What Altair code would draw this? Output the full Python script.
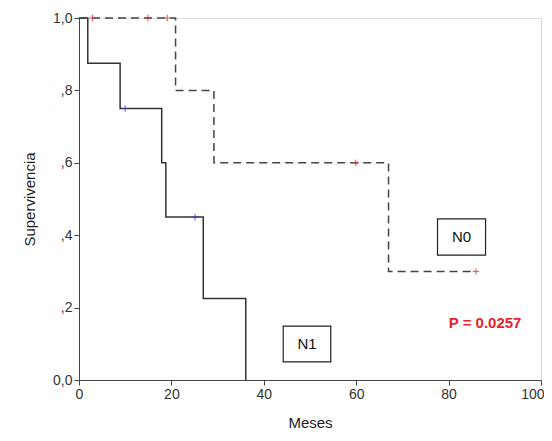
import altair as alt
import pandas as pd

# Kaplan-Meier steps
n1_time = [0, 1.9, 8.9, 17.9, 18.8, 26.9, 36.1]
n1_surv = [1.0, 0.875, 0.75, 0.6, 0.45, 0.225, 0.0]
n0_time = [0, 20.9, 29.2, 67.0, 85.9]
n0_surv = [1.0, 0.8, 0.6, 0.3, 0.3]

# censored observations
n1_cens_time = [10.0, 25.1]
n1_cens_surv = [0.75, 0.45]
n0_cens_time = [2.9, 14.9, 19.1, 59.9, 85.9]
n0_cens_surv = [1.0, 1.0, 1.0, 0.6, 0.3]

# annotation boxes (data units)
box_labels = ["N0", "N1"]
box_x1 = [77.6, 44.2]
box_x2 = [88.0, 54.5]
box_y1 = [0.345, 0.05]
box_y2 = [0.445, 0.149]
p_label = ["P = 0.0257"]
p_x = [87.9]
p_y = [0.157]

x_ticks = [0, 20, 40, 60, 80, 100]
y_ticks = [0, 0.2, 0.4, 0.6, 0.8, 1.0]

n1_line = pd.DataFrame({"t": n1_time, "s": n1_surv})
n0_line = pd.DataFrame({"t": n0_time, "s": n0_surv})
n1_c = pd.DataFrame({"t": n1_cens_time, "s": n1_cens_surv})
n0_c = pd.DataFrame({"t": n0_cens_time, "s": n0_cens_surv})
box_df = pd.DataFrame({"lab": box_labels, "x1": box_x1, "x2": box_x2,
                       "y1": box_y1, "y2": box_y2,
                       "xm": [(a + b) / 2 for a, b in zip(box_x1, box_x2)],
                       "ym": [(a + b) / 2 for a, b in zip(box_y1, box_y2)]})
p_df = pd.DataFrame({"lab": p_label, "x": p_x, "y": p_y})

FONT = "Liberation Sans"
PLUS = "M-1,0L1,0M0,-1L0,1"
xscale = alt.Scale(domain=[0, 100], nice=False, zero=False)
yscale = alt.Scale(domain=[0, 1], nice=False)

xenc = alt.X("t:Q", scale=xscale, axis=alt.Axis(
    title="Meses", values=x_ticks, grid=False,
    tickSize=5, labelFontSize=14, titleFontSize=15, titleFontWeight="normal",
    titlePadding=14, domainColor="#444", tickColor="#444", labelColor="#333",
    titleColor="#222", labelFont=FONT, titleFont=FONT, labelFlush=False,
    labelAlign={"expr": "datum.value == 100 ? 'right' : 'center'"},
    labelOffset={"expr": "datum.value == 100 ? 3 : 0"}))
yenc = alt.Y("s:Q", scale=yscale, axis=alt.Axis(
    title="Supervivencia", values=y_ticks, grid=False,
    tickSize=5, labelFontSize=14, titleFontSize=15, titleFontWeight="normal",
    titlePadding=15, domainColor="#444", tickColor="#444", labelColor="#333",
    titleColor="#222", labelFont=FONT, titleFont=FONT,
    labelExpr="datum.value == 0 ? '0,0' : datum.value == 1 ? '1,0' : ',' + format(datum.value*10, 'd')"))

l1 = alt.Chart(n1_line).mark_line(interpolate="step-after", color="#333", strokeWidth=1.5).encode(x=xenc, y=yenc)
l0 = alt.Chart(n0_line).mark_line(interpolate="step-after", color="#444", strokeWidth=1.5,
                                   strokeDash=[8, 5]).encode(x="t:Q", y="s:Q")
c1 = alt.Chart(n1_c).mark_point(shape=PLUS, size=45, color="#3b3bd0", filled=False,
                                 strokeWidth=1.2).encode(x="t:Q", y="s:Q")
c0 = alt.Chart(n0_c).mark_point(shape=PLUS, size=40, color="#e8282a", filled=False,
                                 strokeWidth=1.2).encode(x="t:Q", y="s:Q")
boxes = alt.Chart(box_df).mark_rect(fill="white", stroke="#222", strokeWidth=1.2).encode(
    x="x1:Q", x2="x2:Q", y="y1:Q", y2="y2:Q")
btext = alt.Chart(box_df).mark_text(font=FONT, fontSize=15, color="#111").encode(
    x="xm:Q", y="ym:Q", text="lab:N")
ptext = alt.Chart(p_df).mark_text(font=FONT, fontSize=15, fontWeight="bold", color="#e8232a").encode(
    x="x:Q", y="y:Q", text="lab:N")

chart = alt.layer(l1, l0, c1, c0, boxes, btext, ptext).properties(
    width=462, height=362,
    autosize=alt.AutoSizeParams(type="none"),
    padding={"left": 71, "top": 10, "right": 3, "bottom": 53},
).configure_view(stroke=None).configure(background="white")

chart.save("out.html", embed_options={"renderer": "svg", "actions": False})
